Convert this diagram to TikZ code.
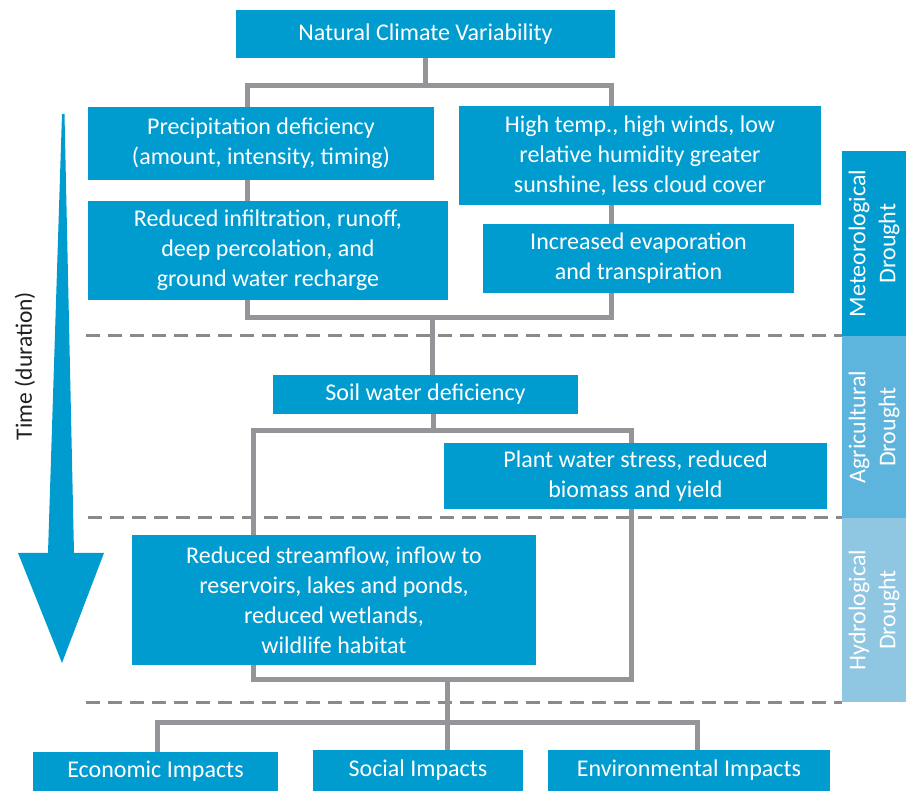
\documentclass[tikz,border=0pt]{standalone}
\usepackage{fontspec}
\setmainfont{Carlito}
\usetikzlibrary{backgrounds}
\definecolor{boxblue}{RGB}{0,156,207}
\definecolor{agblue}{RGB}{93,181,222}
\definecolor{hyblue}{RGB}{143,198,226}
\definecolor{conngray}{RGB}{147,149,152}
\definecolor{dashgray}{RGB}{138,138,138}
\definecolor{textdark}{RGB}{35,31,32}
\begin{document}
\begin{tikzpicture}[x=1pt,y=-1pt,
  box/.style={fill=boxblue,text=white,inner sep=0pt,align=center,font=\fontsize{24}{30}\selectfont},
  conn/.style={draw=conngray,line width=5pt},
  sepline/.style={draw=dashgray,line width=3pt,dash pattern=on 14pt off 8pt},
  side/.style={text=white,inner sep=0pt,align=center,rotate=90,font=\fontsize{24}{30}\selectfont}]
\useasboundingbox (0,0) rectangle (906,791);
% boxes
\node[box,minimum width=379,minimum height=48] (nat) at (425.5,34) {Natural Climate Variability};
\node[box,minimum width=346,minimum height=73] (precip) at (261,143.5) {Precipitation deficiency\\(amount, intensity, timing)};
\node[box,minimum width=360,minimum height=99] (infil) at (268,250.5) {Reduced infiltration, runoff,\\deep percolation, and\\ground water recharge};
\node[box,minimum width=362,minimum height=99] (high) at (640,155.5) {High temp., high winds, low\\relative humidity greater\\sunshine, less cloud cover};
\node[box,minimum width=311,minimum height=69] (evap) at (638.5,258.5) {Increased evaporation\\and transpiration};
\node[box,minimum width=305,minimum height=39] (soil) at (425.5,394.5) {Soil water deficiency};
\node[box,minimum width=383,minimum height=66] (plant) at (635.5,476) {Plant water stress, reduced\\biomass and yield};
\node[box,minimum width=404,minimum height=130] (stream) at (334,600) {Reduced streamflow, inflow to\\reservoirs, lakes and ponds,\\reduced wetlands,\\wildlife habitat};
\node[box,minimum width=245,minimum height=39] (econ) at (155.5,771.5) {Economic Impacts};
\node[box,minimum width=210,minimum height=41] (social) at (418,770.5) {Social Impacts};
\node[box,minimum width=282,minimum height=41] (env) at (689,770.5) {Environmental Impacts};
% side labels
\node[side,fill=boxblue,minimum width=185,minimum height=64] (met) at (874,243.5) {Meteorological\\Drought};
\node[side,fill=agblue,minimum width=182,minimum height=64] (agr) at (874,427) {Agricultural\\Drought};
\node[side,fill=hyblue,minimum width=184,minimum height=64] (hyd) at (874,610) {Hydrological\\Drought};
% time arrow
\fill[boxblue] (62,114) -- (64.5,114) -- (74,553) -- (104,553) -- (62,663) -- (18,553) -- (48,553) -- cycle;
\node[rotate=90,text=textdark,inner sep=0pt,font=\fontsize{23.5}{28}\selectfont] (time) at (25,366) {Time (duration)};
% connectors
\coordinate (a1) at (247,86);
\coordinate (a2) at (611,86);
\coordinate (a3) at (247,318);
\coordinate (a4) at (611,318);
\coordinate (a5) at (432,318);
\coordinate (b5) at (433,431);
\coordinate (b1) at (253,431);
\coordinate (b2) at (631,431);
\coordinate (b3) at (253,679);
\coordinate (b4) at (631,679);
\coordinate (d0) at (447,679);
\coordinate (d1) at (157,722);
\coordinate (d2) at (697,722);
\coordinate (s1) at (86,336);
\coordinate (s2) at (842,336);
\coordinate (s3) at (88,518);
\coordinate (s4) at (842,518);
\coordinate (s5) at (86,702);
\coordinate (s6) at (842,702);
\begin{scope}[on background layer]
\draw[sepline] (s1) -- (s2);
\draw[sepline] (s3) -- (s4);
\draw[sepline] (s5) -- (s6);
\draw[conn] (nat.south) -- (nat.south |- a1);
\draw[conn] (a3) -- (a1) -- (a2) -- (a4) -- cycle;
\draw[conn] (a5) -- (a5 |- soil.north);
\draw[conn] (soil.south -| b5) -- (b5);
\draw[conn] (b1) -- (b2) -- (b4) -- (b3) -- cycle;
\draw[conn] (d0) -- (d0 |- social.north);
\draw[conn] (econ.north -| d1) -- (d1) -- (d2) -- (env.north -| d2);
\end{scope}
\end{tikzpicture}
\end{document}
